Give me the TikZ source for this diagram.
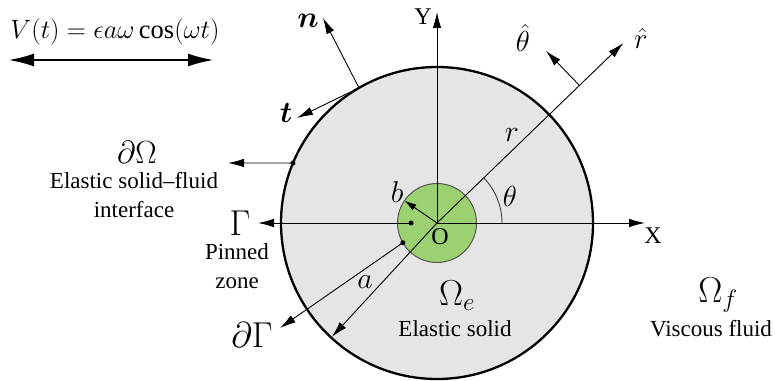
\RequirePackage{fix-cm}
\documentclass[tikz,border=0pt]{standalone}
\usepackage{amsmath}
\usepackage{fontspec}
\setmainfont{Liberation Serif}
\usetikzlibrary{arrows.meta,calc}
\definecolor{solidgray}{RGB}{229,229,229}
\definecolor{coregreen}{RGB}{155,209,112}
\definecolor{coreedge}{RGB}{85,85,85}
\newcommand{\txtsz}{\fontsize{23}{28.5}\selectfont}
\newcommand{\smsz}{\fontsize{24}{26}\selectfont}
\newcommand{\mthsz}{\fontsize{30}{32}\selectfont}
\newcommand{\bigsz}{\fontsize{36}{40}\selectfont}
\newcommand{\midsz}{\fontsize{32}{34}\selectfont}
\newcommand{\hatsz}{\fontsize{29}{31}\selectfont}
\newcommand{\eqsz}{\fontsize{26.5}{30}\selectfont}
\tikzset{
  thinline/.style={line width=0.9pt},
  arr/.style={thinline, -{Latex[length=16pt,width=8.5pt]}},
  bigarr/.style={line width=2.6pt, {Latex[length=26pt,width=13pt]}-{Latex[length=26pt,width=13pt]}},
  dotmark/.style={circle, fill=black, inner sep=0pt, minimum size=5pt},
  lbl/.style={inner sep=0pt, outer sep=0pt},
  txt/.style={inner sep=0pt, align=center, font=\txtsz},
}
\begin{document}
\begin{tikzpicture}[x=1pt,y=1pt]
\useasboundingbox (0,0) rectangle (775,380);
\coordinate (O) at (437,157);
% solid and core
\fill[solidgray] (O) circle (156);
\fill[coregreen] (O) circle (39.5);
\draw[coreedge, line width=1pt] (O) circle (39.5);
% axes
\coordinate (Ytip) at (437,368);
\coordinate (Xtip) at (645,157);
\draw[arr] (O) -- (Ytip);
\draw[arr] (O) -- (Xtip);
\node[lbl, font=\smsz] (Ylab) at (423,363) {Y};
\node[lbl, font=\smsz] (Xlab) at (653,144) {X};
\node[lbl, font=\smsz] (Olab) at (440,143) {O};
% radial line r
\coordinate (rtip) at ($(O)+(44:259)$);
\coordinate (tbase) at ($(O)+(44:198)$);
\coordinate (thtip) at ($(tbase)+(134:48)$);
\draw[arr] (O) -- (rtip);
\draw[arr] (tbase) -- (thtip);
\node[lbl, font=\hatsz] (rhat) at (641,342) {$\hat{r}$};
\node[lbl, font=\hatsz] (thhat) at (523,342) {$\hat{\theta}$};
\node[lbl, font=\mthsz] (rlab) at (512,245) {$r$};
% angle theta
\draw[thinline, black!75] ($(O)+(65,0)$) arc (0:44:65);
\node[lbl, font=\hatsz] (thlab) at (510,184) {$\theta$};
% b
\coordinate (btip) at ($(O)+(145.5:39.5)$);
\draw[arr, -{Latex[length=12pt,width=7pt]}] (O) -- (btip);
\node[lbl, font=\mthsz] (blab) at (397,188) {$b$};
% pinned zone
\node[dotmark] (pdot) at (411,157) {};
\coordinate (Gtip) at (258,157);
\draw[arr] (pdot.center) -- (Gtip);
\node[lbl, font=\bigsz] (Glab) at (240,157) {$\Gamma$};
\node[txt] (pinned) at (237,114) {Pinned\\zone};
% boundary of pinned zone
\node[dotmark] (dGdot) at ($(O)+(210:39.5)$) {};
\coordinate (dGtip) at (280,52);
\draw[arr] (dGdot.center) -- (dGtip);
\node[lbl, font=\bigsz] (dGlab) at (252,45) {$\partial\Gamma$};
% a
\coordinate (atip) at ($(O)+(227.3:155)$);
\draw[arr] (O) -- (atip);
\node[lbl, font=\mthsz] (alab) at (365,98) {$a$};
% interface
\node[dotmark] (dOdot) at ($(O)+(157.4:156)$) {};
\coordinate (dOtip) at (228,217);
\draw[arr] (dOdot.center) -- (dOtip);
\node[lbl, font=\midsz] (dOlab) at (137,228) {$\partial\Omega$};
\node[txt] (iface) at (134,185) {Elastic solid--fluid\\interface};
% normal and tangent
\coordinate (P) at ($(O)+(120:156)$);
\coordinate (ntip) at (323,362);
\coordinate (ttip) at (297,262);
\draw[arr] (P) -- (ntip);
\draw[arr] (P) -- (ttip);
\node[lbl, font=\mthsz] (nlab) at (308,359) {$\boldsymbol{n}$};
\node[lbl, font=\mthsz] (tlab) at (286,267) {$\boldsymbol{t}$};
% outer boundary
\draw[line width=2.3pt] (O) circle (156);
% oscillation
\coordinate (vl) at (8,320);
\coordinate (vr) at (214,320);
\draw[bigarr] (vl) -- (vr);
\node[lbl, font=\eqsz] (vlab) at (115,348) {$V(t)=\epsilon a\omega\cos(\omega t)$};
% regions
\node[lbl, font=\bigsz] (Oe) at (457,84) {$\Omega_e$};
\node[txt] (es) at (455,51) {Elastic solid};
\node[lbl, font=\bigsz] (Of) at (718,85) {$\Omega_f$};
\node[txt] (vf) at (711,51) {Viscous fluid};
\end{tikzpicture}
\end{document}
